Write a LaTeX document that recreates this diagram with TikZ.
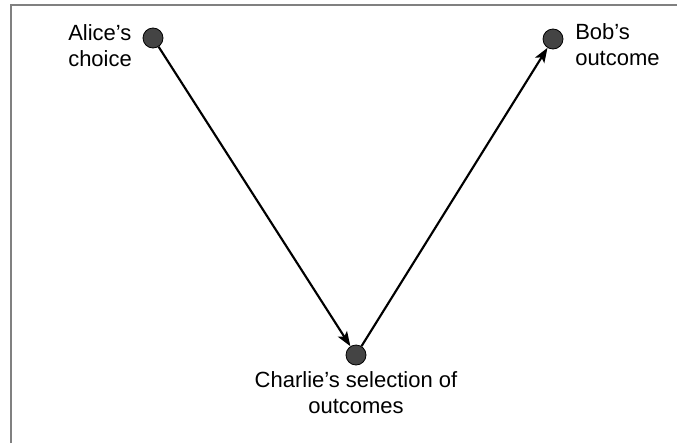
\documentclass[tikz,border=0pt]{standalone}
\usepackage{fontspec}
\setmainfont{Liberation Sans}
\usetikzlibrary{arrows.meta}

\tikzset{
  dot/.style={circle,draw=black,line width=0.6pt,fill={rgb,255:red,68;green,68;blue,68},minimum size=15pt,inner sep=0pt},
  lbl/.style={inner sep=0pt,font=\fontsize{16.5pt}{19.5pt}\selectfont},
  conn/.style={line width=1.6pt,-{Stealth[length=11pt,width=8pt,inset=2.5pt]}},
}

\begin{document}
\begin{tikzpicture}[x=0.75pt,y=0.75pt,yscale=-1,xscale=1]
\useasboundingbox (0,0) rectangle (677,443);

%Shape: Frame
\draw [color={rgb, 255:red, 128; green, 128; blue, 128 }, line width=1.5pt] (11,443) -- (11,5) -- (677,5) ;

%Shape: Circle
\node [dot] (alice) at (153,38) {};
%Shape: Circle
\node [dot] (bob) at (553,39) {};
%Shape: Circle
\node [dot] (charlie) at (356,355) {};

%Straight Lines
\draw [conn] (alice) -- (charlie) ;
%Straight Lines
\draw [conn] (charlie) -- (bob) ;

% Text Node
\node [lbl,anchor=north west,align=left] (alicelbl) at (68,24) {Alice’s\\choice};
% Text Node
\node [lbl,anchor=north west,align=left] (boblbl) at (575,23) {Bob’s\\outcome};
% Text Node
\node [lbl,anchor=north,align=center] (charlielbl) at (356,371) {Charlie’s selection of\\outcomes};

\end{tikzpicture}
\end{document}
